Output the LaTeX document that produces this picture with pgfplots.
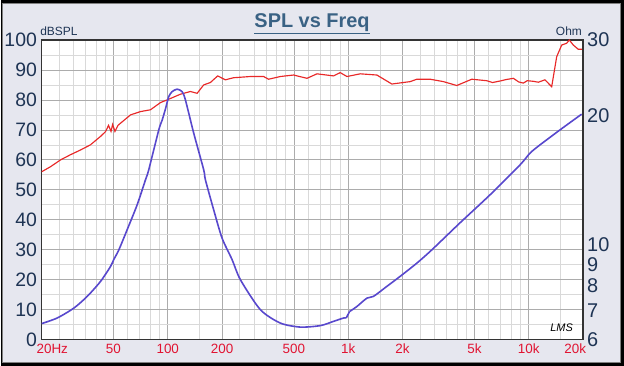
\documentclass[border=0pt]{standalone}
\usepackage{fontspec}
\setmainfont{Liberation Sans}
\usepackage{pgfplots}
\pgfplotsset{compat=1.18}
\definecolor{bgpanel}{RGB}{230,231,239}
\definecolor{navy}{RGB}{30,52,84}
\definecolor{titleblue}{RGB}{58,98,132}
\definecolor{ticklabred}{RGB}{225,20,50}
\definecolor{spl}{RGB}{232,40,40}
\definecolor{imp}{RGB}{88,72,205}
\begin{document}
\begin{tikzpicture}[x=1bp,y=1bp]
\fill[black] (0,0) rectangle (624,366);
\fill[bgpanel, draw=gray, line width=0.6bp] (1.5,3.5) rectangle (620.5,362.5);
\begin{axis}[at={(41bp,26bp)}, anchor=south west, scale only axis,
  width=542bp, height=300bp,
  xmode=log, xmin=20, xmax=20000, ymin=0, ymax=100,
  axis background/.style={fill=white},
  xtick={20,50,100,200,500,1000,2000,5000,10000,20000},
  xticklabels={\makebox[0pt][l]{\hspace{-5bp}20Hz},50,100,200,500,1k,2k,5k,10k,\makebox[0pt][r]{20k\hspace{-3bp}}},
  minor xtick={25,30,35,40,45,60,70,80,90,150,250,300,350,400,450,600,700,800,900,1500,2500,3000,3500,4000,4500,6000,7000,8000,9000,15000},
  ytick={0,10,...,100}, minor ytick={5,15,...,95},
  grid=both,
  major grid style={gray!65, line width=0.7bp},
  minor grid style={gray!30, line width=0.7bp},
  tick style={draw=none}, major tick length=0pt, minor tick length=0pt,
  axis line style={black!80, line width=1.2bp},
  /pgf/number format/assume math mode=true,
  yticklabel style={font=\fontsize{19.5}{19.5}\selectfont, text=navy, inner sep=4.5bp},
  xticklabel style={font=\fontsize{13.5}{13.5}\selectfont, text=ticklabred, inner sep=4bp},
]
\addplot[spl, line width=1.15bp] coordinates {
(20,56.0) (22.4,57.7) (25.5,60.0) (28.9,61.7) (32.9,63.3) (37.3,65.0) (42.4,67.8)
(45.2,69.4) (47,71.5) (48.5,69.5) (49.5,71.8) (51,69.5) (53,71.5) (54.7,72.2)
(62.2,75.0) (70.6,76.1) (80.2,76.7) (91.1,79.1) (99.2,80.0) (117.6,81.9) (133.5,82.8)
(145.5,82.2) (158.2,85.0) (172.3,85.8) (189.1,88.0) (208.6,86.7) (231.9,87.4)
(286.9,87.8) (339.8,87.8) (362.2,86.9) (420.4,87.8) (498.2,88.3) (590.8,87.2)
(671.2,88.7) (829.3,88.0) (903,89.1) (983.6,87.8) (1165.6,88.7) (1441.6,88.3)
(1745,85.3) (2204,86.1) (2400,86.9) (2843,86.9) (3368,86.1) (3994,84.8) (4836,86.9)
(5856,86.4) (6300,85.8) (6936,86.3) (7500,86.8) (8218,87.2) (8800,86.0) (9337,85.6)
(9800,86.4) (10606,86.2) (11300,85.9) (12305,86.7) (13404,84.4) (14286,94.4)
(15226,98.3) (16229,98.9) (16775,100.0) (17656,98.3) (18812,96.9) (19898,96.9)
};
\end{axis}
\begin{axis}[at={(41bp,26bp)}, anchor=south west, scale only axis,
  width=542bp, height=300bp,
  xmode=log, xmin=20, xmax=20000, ymode=log, ymin=6, ymax=30,
  axis y line*=right, axis x line=none,
  ytick={6,7,8,9,10,20,30}, yticklabels={6,7,8,9,10,20,30},
  tick style={draw=none}, major tick length=0pt, minor tick length=0pt,
  axis line style={black!80, line width=1.2bp},
  yticklabel style={font=\fontsize{20}{20}\selectfont, text=navy, inner sep=4bp},
]
\addplot[imp, line width=1.6bp, smooth, tension=0.45] coordinates {
(20,6.54) (24.4,6.74) (30.2,7.11) (35.8,7.57) (42.4,8.20) (48.2,8.89) (50.2,9.22)
(53.6,9.72) (59.6,10.83) (67.7,12.38) (75.3,14.16) (78.5,14.94) (89.2,18.51)
(93.1,19.5) (97.1,20.7) (101.3,22.13) (105.8,22.73) (112.7,23.03) (120.1,22.73)
(125.3,21.74) (139.3,18.19) (158.2,14.94) (161.7,14.16) (179.7,12.05) (200,10.35)
(227.3,9.22) (252.6,8.28) (325.8,7.05) (420.4,6.56) (542.4,6.42) (700,6.47)
(829.3,6.62) (942,6.74) (974.8,6.74)
};
\addplot[imp, line width=1.6bp] coordinates {(974.8,6.74) (1016.8,6.98)};
\addplot[imp, line width=1.6bp, smooth, tension=0.45] coordinates {
(1016.8,6.98) (1117,7.17) (1269,7.50)
(1380,7.57) (1637,7.99) (1940,8.43) (2400,9.05) (2906,9.72) (4166,11.24)
(6106,13.06) (8950,15.34) (10170,16.34) (11550,17.08) (14904,18.51) (19648,20.14)
};
\end{axis}
\node[anchor=base, font=\bfseries\fontsize{20}{20}\selectfont, text=titleblue] at (311.7,338.7) {\underline{SPL vs Freq}};
\node[anchor=base west, inner sep=0pt, font=\fontsize{12}{12}\selectfont, text=navy] at (39.5,330) {dBSPL};
\node[anchor=base east, inner sep=0pt, font=\fontsize{12}{12}\selectfont, text=navy] at (582,330) {Ohm};
\node[font=\itshape\fontsize{11}{11}\selectfont, text=black] at (561.5,37.5) {LMS};
\end{tikzpicture}
\end{document}
